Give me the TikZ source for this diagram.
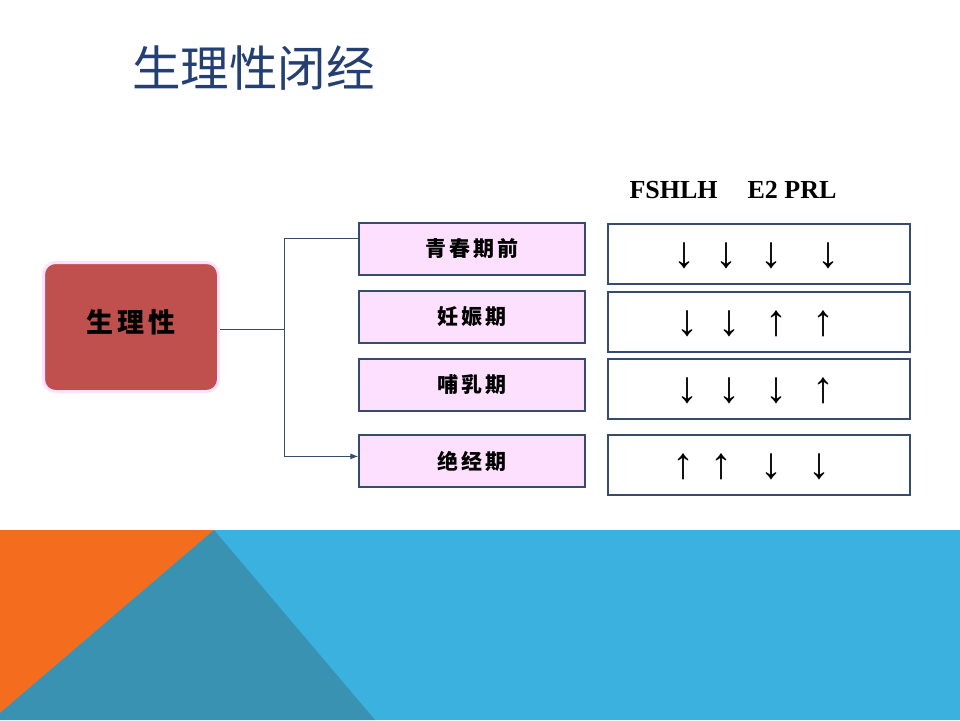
\documentclass[tikz,border=0pt]{standalone}
\usepackage{fontspec}
\setmainfont{Liberation Serif}
\newfontfamily\cjk{Noto Sans CJK SC}
\usetikzlibrary{arrows.meta}
\definecolor{titleblue}{RGB}{36,64,115}
\definecolor{bandblue}{RGB}{58,177,223}
\definecolor{bandorange}{RGB}{244,108,30}
\definecolor{bandteal}{RGB}{57,146,178}
\definecolor{boxred}{RGB}{192,80,77}
\definecolor{pinkborder}{RGB}{255,224,255}
\definecolor{pinkfill}{RGB}{253,224,253}
\definecolor{edgeblue}{RGB}{55,75,110}
\tikzset{
  stagebox/.style={draw=edgeblue, line width=1.2pt, fill=pinkfill, minimum width=226pt, minimum height=52pt, inner sep=0pt,
    font=\cjk\bfseries\fontsize{21}{21}\selectfont},
  valbox/.style={draw=edgeblue, line width=1.2pt, fill=white, minimum width=302pt, minimum height=60pt, inner sep=0pt},
  arr/.style={font=\fontsize{44}{44}\selectfont, inner sep=0pt},
  conn/.style={draw=edgeblue, line width=1pt}
}
\newcommand{\csp}{\hspace{3pt}}
\begin{document}
\begin{tikzpicture}[x=1pt,y=-1pt]
\useasboundingbox (0,0) rectangle (960,720);
\fill[white] (0,0) rectangle (960,720);
\fill[bandblue] (0,530) rectangle (960,720);
\fill[bandorange] (0,530) -- (214,530) -- (0,713) -- cycle;
\fill[bandteal] (214,530) -- (375,720) -- (0,720) -- (0,713) -- cycle;

\node[anchor=west, text=titleblue, font=\cjk\fontsize{48.5}{48.5}\selectfont, inner sep=0pt] (title) at (132,68) {生理性闭经};

\node[draw=pinkborder, line width=3pt, fill=boxred, rounded corners=12pt, minimum width=175pt, minimum height=129pt, inner sep=0pt,
  font=\cjk\bfseries\fontsize{27}{27}\selectfont] (phys) at (131,327) {\raisebox{13pt}{生\hspace{4pt}理\hspace{4pt}性}};

\node[font=\bfseries\fontsize{26}{26}\selectfont, inner sep=0pt] (hdr) at (733,190) {FSHLH\hspace{30pt}E2 PRL};

\node[stagebox] (b1) at (472,249) {青\csp 春\csp 期\csp 前};
\node[stagebox] (b2) at (472,317) {妊\csp 娠\csp 期};
\node[stagebox] (b3) at (472,385) {哺\csp 乳\csp 期};
\node[stagebox] (b4) at (472,461) {绝\csp 经\csp 期};

\node[valbox] (r1) at (759,254) {};
\node[valbox] (r2) at (759,322) {};
\node[valbox] (r3) at (759,389) {};
\node[valbox] (r4) at (759,465) {};

\node[arr] (a11) at (684,256) {↓};
\node[arr] (a12) at (726,256) {↓};
\node[arr] (a13) at (771,256) {↓};
\node[arr] (a14) at (828,256) {↓};
\node[arr] (a21) at (687,324) {↓};
\node[arr] (a22) at (729,324) {↓};
\node[arr] (a23) at (776,324) {↑};
\node[arr] (a24) at (823,324) {↑};
\node[arr] (a31) at (687,391) {↓};
\node[arr] (a32) at (729,391) {↓};
\node[arr] (a33) at (776,391) {↓};
\node[arr] (a34) at (823,391) {↑};
\node[arr] (a41) at (683,467) {↑};
\node[arr] (a42) at (721,467) {↑};
\node[arr] (a43) at (771,467) {↓};
\node[arr] (a44) at (819,467) {↓};

\coordinate (j) at (284,329);
\draw[conn] (phys.east |- j) -- (j);
\draw[conn] (j) |- ([yshift=-16pt]b1.north west);
\draw[conn, -{Latex[length=8pt,width=6pt]}] (j) |- ([yshift=-22pt]b4.north west);
\end{tikzpicture}
\end{document}
